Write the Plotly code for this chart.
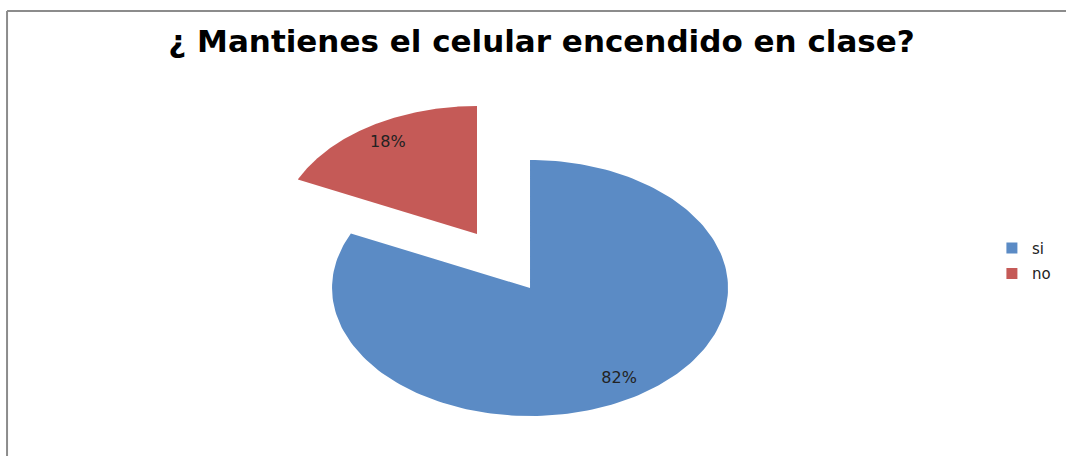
import numpy as np
import plotly.graph_objects as go

# datos
categorias = ["si", "no"]
porcentajes = [82, 18]
colores = ["#5B8BC5", "#C55A57"]
separacion = [0.0, 0.5]  # la porción "no" va desplazada

fig = go.Figure()

total = sum(porcentajes)
acum = 0
for cat, val, col, sep in zip(categorias, porcentajes, colores, separacion):
    a0 = np.pi / 2 - 2 * np.pi * acum / total
    a1 = np.pi / 2 - 2 * np.pi * (acum + val) / total
    acum += val
    t = np.linspace(a0, a1, 200)
    mid = (a0 + a1) / 2
    cx, cy = sep * np.cos(mid), sep * np.sin(mid)
    xs = np.concatenate([[cx], cx + np.cos(t), [cx]])
    ys = np.concatenate([[cy], cy + np.sin(t), [cy]])
    fig.add_trace(go.Scatter(
        x=xs, y=ys, fill="toself", fillcolor=col, mode="lines",
        line=dict(width=0, color=col), name=cat, showlegend=False,
        hoverinfo="skip"))
    fig.add_trace(go.Scatter(
        x=[cx + 0.84 * np.cos(mid)], y=[cy + 0.84 * np.sin(mid)],
        mode="text", text=[f"{val}%"], showlegend=False, hoverinfo="skip",
        textfont=dict(family="DejaVu Sans", size=16, color="#222222")))
    # entrada de leyenda
    fig.add_trace(go.Scatter(
        x=[None], y=[None], mode="markers", name=cat, legendgroup=cat,
        marker=dict(symbol="square", size=11, color=col)))

fig.update_xaxes(visible=False, range=[-2.677, 2.707], fixedrange=True)
fig.update_yaxes(visible=False, range=[-1.3125, 2.25], fixedrange=True)

# borde del área del gráfico (solo arriba e izquierda se ven)
fig.add_shape(type="line", xref="paper", yref="paper",
              x0=0.0066, x1=1.0, y0=1 - 11 / 456, y1=1 - 11 / 456,
              line=dict(color="#8C8C8C", width=2))
fig.add_shape(type="line", xref="paper", yref="paper",
              x0=0.0066, x1=0.0066, y0=0, y1=1 - 11 / 456,
              line=dict(color="#8C8C8C", width=2))

fig.update_layout(
    width=1066, height=456,
    margin=dict(l=0, r=0, t=0, b=0),
    paper_bgcolor="white", plot_bgcolor="white",
    title=dict(text="<b>¿ Mantienes el celular encendido en clase?</b>",
               x=0.508, xanchor="center", y=1 - 41 / 456, yanchor="middle",
               font=dict(family="DejaVu Sans", size=31, color="black")),
    legend=dict(x=0.9305, y=0.428, xanchor="left", yanchor="middle",
                font=dict(family="DejaVu Sans", size=15, color="#222222"),
                tracegroupgap=3, itemwidth=30, bgcolor="rgba(0,0,0,0)"),
)

fig.write_html("out.html", config={"displayModeBar": False},
               post_script="document.body.style.margin='0';")
